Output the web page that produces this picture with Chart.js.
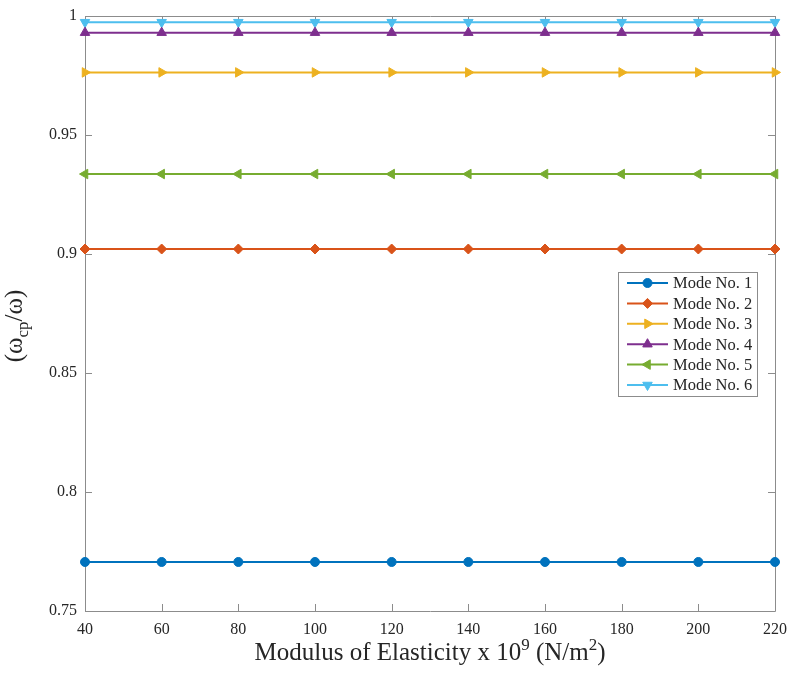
<!DOCTYPE html>
<html>
<head>
<meta charset="utf-8">
<script src="https://cdn.jsdelivr.net/npm/chart.js@4/dist/chart.umd.min.js"></script>
<style>
  html, body { margin: 0; padding: 0; background: #fff; }
  #wrap { width: 788px; height: 677px; }
</style>
</head>
<body>
<div id="wrap"><canvas id="c" width="788" height="677"></canvas></div>
<script>
// Modulus of elasticity (x 10^9 N/m^2)
const modulus = [40, 60, 80, 100, 120, 140, 160, 180, 200, 220];

// Frequency ratio (omega_cp / omega) for each mode
const mode1 = [0.7706, 0.7706, 0.7706, 0.7706, 0.7706, 0.7706, 0.7706, 0.7706, 0.7706, 0.7706];
const mode2 = [0.9021, 0.9021, 0.9021, 0.9021, 0.9021, 0.9021, 0.9021, 0.9021, 0.9021, 0.9021];
const mode3 = [0.9763, 0.9763, 0.9763, 0.9763, 0.9763, 0.9763, 0.9763, 0.9763, 0.9763, 0.9763];
const mode4 = [0.9930, 0.9930, 0.9930, 0.9930, 0.9930, 0.9930, 0.9930, 0.9930, 0.9930, 0.9930];
const mode5 = [0.9336, 0.9336, 0.9336, 0.9336, 0.9336, 0.9336, 0.9336, 0.9336, 0.9336, 0.9336];
const mode6 = [0.9974, 0.9974, 0.9974, 0.9974, 0.9974, 0.9974, 0.9974, 0.9974, 0.9974, 0.9974];

const seriesNames = ['Mode No. 1', 'Mode No. 2', 'Mode No. 3', 'Mode No. 4', 'Mode No. 5', 'Mode No. 6'];
const xTicks = [40, 60, 80, 100, 120, 140, 160, 180, 200, 220];
const yTicks = [0.75, 0.8, 0.85, 0.9, 0.95, 1];

const colors = ['#0072BD', '#D95319', '#EDB120', '#7E2F8E', '#77AC30', '#4DBEEE'];
const styles = [
  { pointStyle: 'circle',   rotation: 0,   radius: 4.5 },
  { pointStyle: 'rectRot',  rotation: 0,   radius: 5 },
  { pointStyle: 'triangle', rotation: 90,  radius: 5.5 },
  { pointStyle: 'triangle', rotation: 0,   radius: 5.5 },
  { pointStyle: 'triangle', rotation: -90, radius: 5.5 },
  { pointStyle: 'triangle', rotation: 180, radius: 5.5 }
];
const seriesValues = [mode1, mode2, mode3, mode4, mode5, mode6];

const SERIF = '"Liberation Serif", "Times New Roman", serif';
const FRAME = '#8c8c8c';
const TEXT = '#262626';

const datasets = seriesValues.map((vals, i) => ({
  label: seriesNames[i],
  data: modulus.map((x, j) => ({ x: x, y: vals[j] })),
  borderColor: colors[i],
  backgroundColor: colors[i],
  borderWidth: 2,
  pointStyle: styles[i].pointStyle,
  pointRotation: styles[i].rotation,
  pointRadius: styles[i].radius,
  pointBorderWidth: 1,
  pointBackgroundColor: colors[i],
  pointBorderColor: colors[i],
  tension: 0,
  clip: false
}));

// Axes box with inward tick marks
const framePlugin = {
  id: 'frame',
  beforeDatasetsDraw(chart) {
    const { ctx, chartArea: a, scales } = chart;
    ctx.save();
    ctx.strokeStyle = FRAME;
    ctx.lineWidth = 1;
    ctx.beginPath();
    ctx.rect(Math.round(a.left) + 0.5, Math.round(a.top) + 0.5,
             Math.round(a.right - a.left), Math.round(a.bottom - a.top));
    ctx.stroke();
    const tl = 7;
    ctx.beginPath();
    xTicks.forEach(v => {
      const px = Math.round(scales.x.getPixelForValue(v)) + 0.5;
      ctx.moveTo(px, a.bottom); ctx.lineTo(px, a.bottom - tl);
      ctx.moveTo(px, a.top); ctx.lineTo(px, a.top + tl);
    });
    yTicks.forEach(v => {
      const py = Math.round(scales.y.getPixelForValue(v)) + 0.5;
      ctx.moveTo(a.left, py); ctx.lineTo(a.left + tl, py);
      ctx.moveTo(a.right, py); ctx.lineTo(a.right - tl, py);
    });
    ctx.stroke();
    ctx.restore();
  }
};

// Draw a run of text pieces with super/subscripts, starting at x (left aligned)
function drawRuns(ctx, runs, x, y) {
  let cx = x;
  runs.forEach(r => {
    ctx.font = r.size + 'px ' + SERIF;
    ctx.fillText(r.text, cx, y + (r.dy || 0));
    cx += ctx.measureText(r.text).width;
  });
}
function runsWidth(ctx, runs) {
  let w = 0;
  runs.forEach(r => { ctx.font = r.size + 'px ' + SERIF; w += ctx.measureText(r.text).width; });
  return w;
}

// Axis titles and in-plot legend
const annotatePlugin = {
  id: 'annotate',
  afterDraw(chart) {
    const { ctx, chartArea: a } = chart;
    ctx.save();
    ctx.fillStyle = TEXT;
    ctx.textBaseline = 'alphabetic';
    ctx.textAlign = 'left';

    // x-axis title
    const xRuns = [
      { text: 'Modulus of Elasticity x 10', size: 25 },
      { text: '9', size: 17, dy: -10 },
      { text: ' (N/m', size: 25 },
      { text: '2', size: 17, dy: -10 },
      { text: ')', size: 25 }
    ];
    const xw = runsWidth(ctx, xRuns);
    drawRuns(ctx, xRuns, (a.left + a.right) / 2 - xw / 2, 660);

    // y-axis title (rotated)
    const yRuns = [
      { text: '(\u03C9', size: 25 },
      { text: 'cp', size: 17, dy: 6 },
      { text: '/\u03C9)', size: 25 }
    ];
    const yw = runsWidth(ctx, yRuns);
    ctx.save();
    ctx.translate(22, 326);
    ctx.rotate(-Math.PI / 2);
    drawRuns(ctx, yRuns, -yw / 2, 0);
    ctx.restore();

    // legend
    const lx = 618, ly = 272, lw = 139, lh = 124;
    ctx.fillStyle = '#ffffff';
    ctx.fillRect(lx, ly, lw, lh);
    ctx.strokeStyle = FRAME;
    ctx.lineWidth = 1;
    ctx.strokeRect(lx + 0.5, ly + 0.5, lw, lh);
    seriesNames.forEach((name, i) => {
      const y = 283 + i * 20.4;
      ctx.strokeStyle = colors[i];
      ctx.lineWidth = 2;
      ctx.beginPath();
      ctx.moveTo(627, y); ctx.lineTo(668, y);
      ctx.stroke();
      ctx.fillStyle = colors[i];
      ctx.lineWidth = 1;
      Chart.helpers.drawPoint(ctx, {
        pointStyle: styles[i].pointStyle,
        rotation: styles[i].rotation,
        radius: styles[i].radius,
        borderWidth: 1
      }, 647.5, y);
      ctx.fillStyle = TEXT;
      ctx.font = '16.5px ' + SERIF;
      ctx.textBaseline = 'middle';
      ctx.fillText(name, 673, y + 1);
    });
    ctx.restore();
  }
};

new Chart(document.getElementById('c'), {
  type: 'line',
  data: { datasets: datasets },
  options: {
    responsive: false,
    animation: false,
    layout: { padding: { left: 0, top: 16, right: 13, bottom: 0 } },
    plugins: { legend: { display: false }, tooltip: { enabled: false } },
    scales: {
      x: {
        type: 'linear',
        min: 40, max: 220,
        afterBuildTicks: s => { s.ticks = xTicks.map(v => ({ value: v })); },
        afterFit: s => { s.height = 66; s.paddingLeft = 0; s.paddingRight = 0; },
        grid: { display: false, drawTicks: false },
        border: { display: false },
        ticks: {
          padding: 9,
          color: TEXT,
          font: { family: SERIF, size: 16 },
          maxRotation: 0,
          autoSkip: false,
          callback: v => String(v)
        }
      },
      y: {
        type: 'linear',
        min: 0.75, max: 1,
        afterBuildTicks: s => { s.ticks = yTicks.map(v => ({ value: v })); },
        afterFit: s => { s.width = 85; s.paddingTop = 0; s.paddingBottom = 0; },
        grid: { display: false, drawTicks: false },
        border: { display: false },
        ticks: {
          padding: 8,
          color: TEXT,
          font: { family: SERIF, size: 16 },
          autoSkip: false,
          callback: v => String(+v.toFixed(2))
        }
      }
    }
  },
  plugins: [framePlugin, annotatePlugin]
});
</script>
</body>
</html>
